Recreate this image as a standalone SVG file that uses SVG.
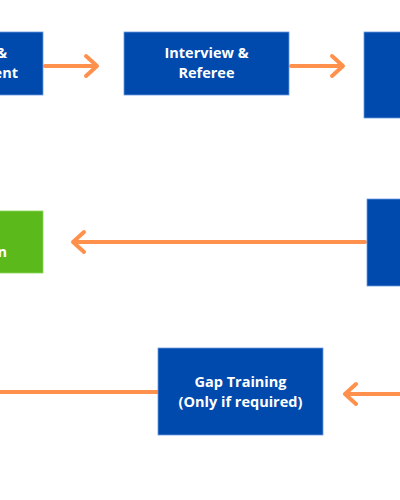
<svg xmlns="http://www.w3.org/2000/svg" width="400" height="500" viewBox="0 0 400 500">
<style>
.blue{fill:#004AAD;stroke:#6A9AE0;stroke-width:0.8}
.green{fill:#5CB91C;stroke:#8BD65A;stroke-width:0.8}
.t{font-family:"Open Sans","Noto Sans",sans-serif;font-weight:bold;font-size:14.5px;fill:#fff;text-anchor:middle}
.e{text-anchor:end}
.c{stroke:#FF914D;stroke-width:4;fill:none;stroke-linecap:round;stroke-linejoin:round}
</style>
<rect width="400" height="500" fill="#fff"/>
<g id="connectors">
<path class="c" d="M45 66H97M86 56L97 66L86 76"/>
<path class="c" d="M291 66H343M332 56L343 66L332 76"/>
<path class="c" d="M365 242H73M84 232L73 242L84 252"/>
<path class="c" d="M157 392H-5"/>
<path class="c" d="M402 394H345M356 384L345 394L356 404"/>
</g>
<g id="node-assessment">
<rect class="blue" x="-120" y="32" width="163" height="63"/>
<text class="t e" x="7" y="58">&amp;</text>
<text class="t e" x="18" y="78">ent</text>
</g>
<g id="node-interview">
<rect class="blue" x="124" y="32" width="165" height="63"/>
<text class="t" x="206.5" y="58">Interview &amp;</text>
<text class="t" x="206.5" y="78">Referee</text>
</g>
<g id="node-right-top">
<rect class="blue" x="364" y="32" width="60" height="86"/>
</g>
<g id="node-green">
<rect class="green" x="-120" y="211" width="163" height="62"/>
<text class="t e" x="7" y="257">n</text>
</g>
<g id="node-right-mid">
<rect class="blue" x="367" y="199" width="60" height="87"/>
</g>
<g id="node-gap">
<rect class="blue" x="158" y="348" width="165" height="87"/>
<text class="t" x="240.5" y="387">Gap Training</text>
<text class="t" x="240.5" y="407">(Only if required)</text>
</g>
</svg>
